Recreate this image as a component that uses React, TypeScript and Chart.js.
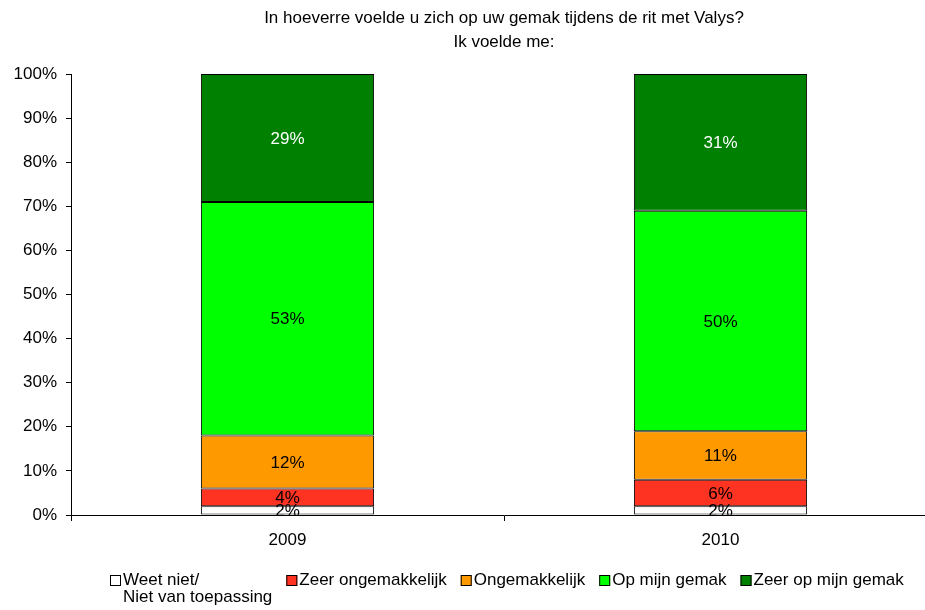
import React, { useEffect, useRef } from "react";
import { Chart, registerables } from "chart.js";

Chart.register(...registerables);

const categories = ["2009", "2010"];
const seriesNames = [
  "Weet niet/\nNiet van toepassing",
  "Zeer ongemakkelijk",
  "Ongemakkelijk",
  "Op mijn gemak",
  "Zeer op mijn gemak",
];
const weetNiet = [2, 2];
const zeerOngemakkelijk = [4, 6];
const ongemakkelijk = [12, 11];
const opMijnGemak = [53, 50];
const zeerOpMijnGemak = [29, 31];
const seriesColors = ["#FFFFFF", "#FF3322", "#FF9900", "#00FF00", "#008000"];
const labelColors = ["#000000", "#000000", "#000000", "#000000", "#FFFFFF"];
const titleLines = [
  "In hoeverre voelde u zich op uw gemak tijdens de rit met Valys?",
  "Ik voelde me:",
];

const FONT_FAMILY = "'Liberation Sans', Arial, sans-serif";
const FONT_SIZE = 17;

const titlePlugin = {
  id: "customTitle",
  afterDraw(chart: any) {
    const { ctx, chartArea } = chart;
    ctx.save();
    ctx.font = `${FONT_SIZE}px ${FONT_FAMILY}`;
    ctx.fillStyle = "#000";
    ctx.textAlign = "center";
    ctx.textBaseline = "middle";
    const cx = (chartArea.left + chartArea.right) / 2;
    titleLines.forEach((line, i) => {
      ctx.fillText(line, cx, 18 + i * 24);
    });
    ctx.restore();
  },
};

const dataLabelPlugin = {
  id: "dataLabels",
  afterDatasetsDraw(chart: any) {
    const { ctx } = chart;
    ctx.save();
    ctx.font = `${FONT_SIZE}px ${FONT_FAMILY}`;
    ctx.textAlign = "center";
    ctx.textBaseline = "middle";
    chart.data.datasets.forEach((ds: any, i: number) => {
      const meta = chart.getDatasetMeta(i);
      meta.data.forEach((el: any, j: number) => {
        const v = ds.data[j];
        const p = el.getProps(["x", "y", "base"], true);
        ctx.fillStyle = labelColors[i];
        ctx.fillText(v + "%", p.x, (p.y + p.base) / 2 + 1);
      });
    });
    ctx.restore();
  },
};

const legendPlugin = {
  id: "customLegend",
  afterDraw(chart: any) {
    const { ctx } = chart;
    ctx.save();
    ctx.font = `${FONT_SIZE}px ${FONT_FAMILY}`;
    ctx.textAlign = "left";
    ctx.textBaseline = "middle";
    let x = 110;
    const boxY = 575;
    const box = 11;
    seriesNames.forEach((name, i) => {
      ctx.fillStyle = seriesColors[i];
      ctx.fillRect(x, boxY, box, box);
      ctx.strokeStyle = "#000";
      ctx.lineWidth = 1;
      ctx.strokeRect(x + 0.5, boxY + 0.5, box - 1, box - 1);
      const lines = name.split("\n");
      let w = 0;
      ctx.fillStyle = "#000";
      lines.forEach((ln, k) => {
        ctx.fillText(ln, x + box + 2, boxY + box / 2 + k * 17);
        w = Math.max(w, ctx.measureText(ln).width);
      });
      x += box + 2 + w + 14;
    });
    ctx.restore();
  },
};

export default function App() {
  const canvasRef = useRef<HTMLCanvasElement | null>(null);

  useEffect(() => {
    if (!canvasRef.current) return;
    const seriesData = [weetNiet, zeerOngemakkelijk, ongemakkelijk, opMijnGemak, zeerOpMijnGemak];
    const chart = new Chart(canvasRef.current, {
      type: "bar",
      data: {
        labels: categories,
        datasets: seriesData.map((d, i) => ({
          label: seriesNames[i],
          data: d,
          backgroundColor: seriesColors[i],
          borderColor: "#000",
          borderWidth: 1,
          borderSkipped: false,
          categoryPercentage: 0.4,
          barPercentage: 1,
        })),
      },
      options: {
        responsive: false,
        animation: false,
        layout: { padding: { left: 0, right: 13, top: 74, bottom: 0 } },
        plugins: {
          legend: { display: false },
          title: { display: false },
          tooltip: { enabled: false },
        },
        scales: {
          x: {
            stacked: true,
            afterFit: (scale: any) => {
              scale.height = 95;
            },
            grid: {
              drawOnChartArea: false,
              drawTicks: true,
              tickLength: 6,
              color: "#000",
              offset: true,
            },
            border: { display: true, color: "#000", width: 1 },
            ticks: {
              color: "#000",
              font: { family: FONT_FAMILY, size: FONT_SIZE },
              padding: 9,
            },
          },
          y: {
            stacked: true,
            min: 0,
            max: 100,
            afterFit: (scale: any) => {
              scale.width = 71;
            },
            grid: {
              drawOnChartArea: false,
              drawTicks: true,
              tickLength: 5,
              color: "#000",
            },
            border: { display: true, color: "#000", width: 1 },
            ticks: {
              stepSize: 10,
              color: "#000",
              font: { family: FONT_FAMILY, size: FONT_SIZE },
              padding: 9,
              callback: (v: any) => v + "%",
            },
          },
        },
      },
      plugins: [titlePlugin, dataLabelPlugin, legendPlugin],
    });
    return () => chart.destroy();
  }, []);

  return (
    <div
      style={{
        position: "absolute",
        left: 0,
        top: 0,
        width: 925,
        height: 610,
        overflow: "hidden",
        background: "#fff",
      }}
    >
      <canvas ref={canvasRef} width={950} height={610} style={{ width: 950, height: 610 }} />
    </div>
  );
}
